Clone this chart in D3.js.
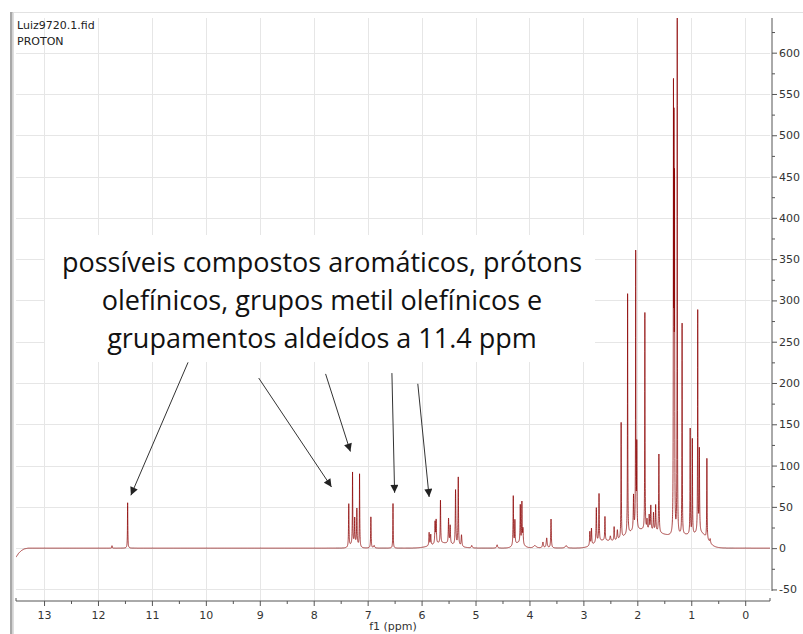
<!DOCTYPE html>
<html>
<head>
<meta charset="utf-8">
<script src="https://cdn.jsdelivr.net/npm/d3@7"></script>
<style>
  body { margin: 0; background: #fff; }
  svg { display: block; }
</style>
</head>
<body>
<svg id="chart" width="803" height="634"></svg>
<script>
// ---- 1H NMR spectrum (Luiz9720.1.fid) ----
// Resolved lines: centre (ppm), height (intensity), half-width at half height (ppm)
const linePpm = [
  11.74, 11.45,
  7.35, 7.28, 7.24, 7.20, 7.15, 6.94, 6.88, 6.53,
  5.86, 5.83, 5.75, 5.73, 5.65, 5.50, 5.47, 5.37, 5.32, 5.26, 5.07,
  4.60, 4.30, 4.27, 4.17, 4.14, 4.12, 3.90, 3.75, 3.68, 3.60, 3.32,
  2.88, 2.85, 2.76, 2.71, 2.60, 2.50, 2.43, 2.37, 2.30, 2.18, 2.07, 2.03, 2.01,
  1.86, 1.82, 1.78, 1.75, 1.70, 1.66, 1.60,
  1.33, 1.32, 1.31, 1.26, 1.17, 1.02, 0.98, 0.88, 0.85, 0.71, 0.65
];
const lineHeight = [
  3, 55,
  52, 86, 30, 43, 88, 38, 3, 54,
  16, 13, 26, 28, 52, 30, 22, 67, 83, 14, 3,
  4, 60, 29, 46, 50, 18, 3, 7, 12, 35, 3,
  17, 20, 42, 58, 29, 6, 17, 12, 140, 292, 42, 340, 100,
  265, 12, 18, 30, 22, 32, 95,
  520, 450, 400, 640, 258, 128, 115, 268, 100, 98, 5
];
const lineWidth = [
  0.004, 0.004,
  0.005, 0.004, 0.005, 0.005, 0.004, 0.005, 0.01, 0.004,
  0.006, 0.006, 0.006, 0.006, 0.005, 0.006, 0.006, 0.006, 0.005, 0.008, 0.01,
  0.01, 0.005, 0.005, 0.005, 0.005, 0.006, 0.03, 0.01, 0.01, 0.006, 0.02,
  0.006, 0.006, 0.006, 0.005, 0.005, 0.01, 0.006, 0.008, 0.004, 0.0035, 0.006, 0.0035, 0.004,
  0.0035, 0.006, 0.006, 0.006, 0.006, 0.006, 0.005,
  0.003, 0.003, 0.003, 0.003, 0.0035, 0.004, 0.004, 0.0035, 0.005, 0.004, 0.008
];

// Broad unresolved humps underneath the multiplets: centre (ppm), height, sigma (ppm)
const humpPpm    = [7.25, 5.60, 4.20, 2.65, 2.05, 1.60, 1.05, 0.80];
const humpHeight = [6,    6,    6,    8,    18,   14,   14,   10];
const humpWidth  = [0.06, 0.20, 0.08, 0.15, 0.25, 0.25, 0.22, 0.10];

// Baseline roll-off at the low-field edge of the window
const edgePpm    = [13.52, 13.47, 13.42, 13.37, 13.30, 13.20];
const edgeOffset = [-11,   -6,    -3,    -1,    0,     0];

// Axis ticks
const xTickValues = [13, 12, 11, 10, 9, 8, 7, 6, 5, 4, 3, 2, 1, 0];
const xTickLabels = ["13", "12", "11", "10", "9", "8", "7", "6", "5", "4", "3", "2", "1", "0"];
const yTickValues = [-50, 0, 50, 100, 150, 200, 250, 300, 350, 400, 450, 500, 550, 600];
const yTickLabels = ["-50", "0", "50", "100", "150", "200", "250", "300", "350", "400", "450", "500", "550", "600"];

// Annotation
const noteLines = [
  "possíveis compostos aromáticos, prótons",
  "olefínicos, grupos metil olefínicos e",
  "grupamentos aldeídos a 11.4 ppm"
];
const arrowFromPpm = [10.33, 9.02, 7.78, 6.55, 6.07];
const arrowFromVal = [225, 206, 211, 212, 199];
const arrowToPpm   = [11.39, 7.67, 7.32, 6.50, 5.86];
const arrowToVal   = [64, 74, 117, 67, 62];

// ---- layout ----
const W = 803, H = 634;
const plot = { left: 16, right: 770, top: 18, bottom: 601 };

const svg = d3.select("#chart");
const x = d3.scaleLinear().domain([13.52, -0.46]).range([plot.left, plot.right]);
const y = d3.scaleLinear().domain([-64, 642]).range([plot.bottom, plot.top]);
const edge = d3.scaleLinear().domain(edgePpm).range(edgeOffset).clamp(true);

svg.append("rect").attr("width", W).attr("height", H).attr("fill", "#fff");

// window frame
svg.append("line").attr("x1", 10).attr("x2", W).attr("y1", 12.5).attr("y2", 12.5)
  .attr("stroke", "#e2e2e2").attr("stroke-width", 1);
svg.append("rect").attr("x", 10).attr("y", 12).attr("width", 2.5).attr("height", H - 12)
  .attr("fill", "#a8a8a8");
svg.append("line").attr("x1", 13.5).attr("x2", 13.5).attr("y1", 12).attr("y2", H)
  .attr("stroke", "#dedede");

// grid
const grid = svg.append("g").attr("stroke", "#e6e6e6").attr("stroke-width", 1).attr("shape-rendering", "crispEdges");
grid.selectAll("line.v").data(xTickValues).join("line")
  .attr("x1", d => Math.round(x(d)) + 0.5).attr("x2", d => Math.round(x(d)) + 0.5)
  .attr("y1", plot.top).attr("y2", plot.bottom);
grid.selectAll("line.h").data(yTickValues).join("line")
  .attr("y1", d => Math.round(y(d)) + 0.5).attr("y2", d => Math.round(y(d)) + 0.5)
  .attr("x1", plot.left).attr("x2", plot.right);

// spectrum
function intensity(p) {
  let s = edge(p);
  for (let i = 0; i < linePpm.length; i++) {
    const d = p - linePpm[i], w = lineWidth[i];
    s += lineHeight[i] * w * w / (d * d + w * w);
  }
  for (let i = 0; i < humpPpm.length; i++) {
    const d = (p - humpPpm[i]) / humpWidth[i];
    s += humpHeight[i] * Math.exp(-0.5 * d * d);
  }
  return s;
}
const nPts = 14000;
const spec = d3.range(nPts + 1).map(i => {
  const p = 13.52 - i * (13.98 / nPts);
  return { ppm: p, val: intensity(p) };
});
svg.append("clipPath").attr("id", "plotclip").append("rect")
  .attr("x", plot.left).attr("y", plot.top)
  .attr("width", plot.right - plot.left).attr("height", plot.bottom - plot.top);
svg.append("path")
  .datum(spec)
  .attr("clip-path", "url(#plotclip)")
  .attr("fill", "none")
  .attr("stroke", "#8b0000")
  .attr("stroke-opacity", 0.75)
  .attr("stroke-width", 1)
  .attr("stroke-linejoin", "round")
  .attr("d", d3.line().x(d => x(d.ppm)).y(d => y(d.val)));

// bottom axis
const xAxis = d3.axisBottom(x)
  .tickValues(d3.range(0, 27).map(i => 13 - i * 0.5))
  .tickSize(4)
  .tickFormat(d => {
    const k = xTickValues.indexOf(d);
    return k >= 0 ? xTickLabels[k] : "";
  });
const gx = svg.append("g").attr("transform", `translate(0,${plot.bottom})`).call(xAxis);
gx.select(".domain").attr("stroke", "#555").attr("d", `M${plot.left},-3V0H${plot.right}V-3`);
gx.selectAll(".tick line").attr("stroke", "#555")
  .attr("y2", d => Number.isInteger(d) ? 5 : 3);
gx.selectAll(".tick text")
  .attr("y", 10)
  .attr("font-family", "DejaVu Sans, Verdana, sans-serif")
  .attr("font-size", 11).attr("fill", "#333");
svg.append("text")
  .attr("x", (plot.left + plot.right) / 2).attr("y", 630)
  .attr("text-anchor", "middle")
  .attr("font-family", "DejaVu Sans, Verdana, sans-serif")
  .attr("font-size", 11).attr("fill", "#333")
  .text("f1 (ppm)");

// right axis
const yAxis = d3.axisRight(y)
  .tickValues(d3.range(-50, 626, 25))
  .tickSize(4)
  .tickFormat(d => {
    const k = yTickValues.indexOf(d);
    return k >= 0 ? yTickLabels[k] : "";
  });
const gy = svg.append("g").attr("transform", `translate(${plot.right + 2},0)`).call(yAxis);
gy.select(".domain").attr("stroke", "#555").attr("d", `M0,${plot.top}V${plot.bottom - 10}`);
gy.selectAll(".tick line").attr("stroke", "#555")
  .attr("x2", d => d % 50 === 0 ? 5 : 3);
gy.selectAll(".tick text")
  .attr("x", 7)
  .attr("font-family", "DejaVu Sans, Verdana, sans-serif")
  .attr("font-size", 11).attr("fill", "#333");

// experiment labels
svg.append("text").attr("x", 17).attr("y", 29)
  .attr("font-family", "DejaVu Sans, Verdana, sans-serif").attr("font-size", 11).attr("fill", "#222")
  .text("Luiz9720.1.fid");
svg.append("text").attr("x", 17).attr("y", 45)
  .attr("font-family", "DejaVu Sans, Verdana, sans-serif").attr("font-size", 11).attr("fill", "#222")
  .text("PROTON");

// annotation box
svg.append("rect").attr("x", 45).attr("y", 235).attr("width", 550).attr("height", 127).attr("fill", "#fff");
svg.append("g")
  .selectAll("text").data(noteLines).join("text")
  .attr("x", 322).attr("y", (d, i) => 272 + i * 38)
  .attr("text-anchor", "middle")
  .attr("font-family", "Open Sans, Lato, sans-serif")
  .attr("font-size", 27).attr("fill", "#111")
  .text(d => d);

// arrows
const defs = svg.append("defs");
defs.append("marker").attr("id", "head")
  .attr("viewBox", "0 0 10 10").attr("refX", 10).attr("refY", 5)
  .attr("markerWidth", 10).attr("markerHeight", 8).attr("markerUnits", "userSpaceOnUse")
  .attr("orient", "auto")
  .append("path").attr("d", "M0,0L10,5L0,10z").attr("fill", "#222");
svg.append("g").selectAll("line").data(arrowFromPpm).join("line")
  .attr("x1", (d, i) => x(arrowFromPpm[i])).attr("y1", (d, i) => y(arrowFromVal[i]))
  .attr("x2", (d, i) => x(arrowToPpm[i])).attr("y2", (d, i) => y(arrowToVal[i]))
  .attr("stroke", "#333").attr("stroke-width", 1)
  .attr("marker-end", "url(#head)");
</script>
</body>
</html>
